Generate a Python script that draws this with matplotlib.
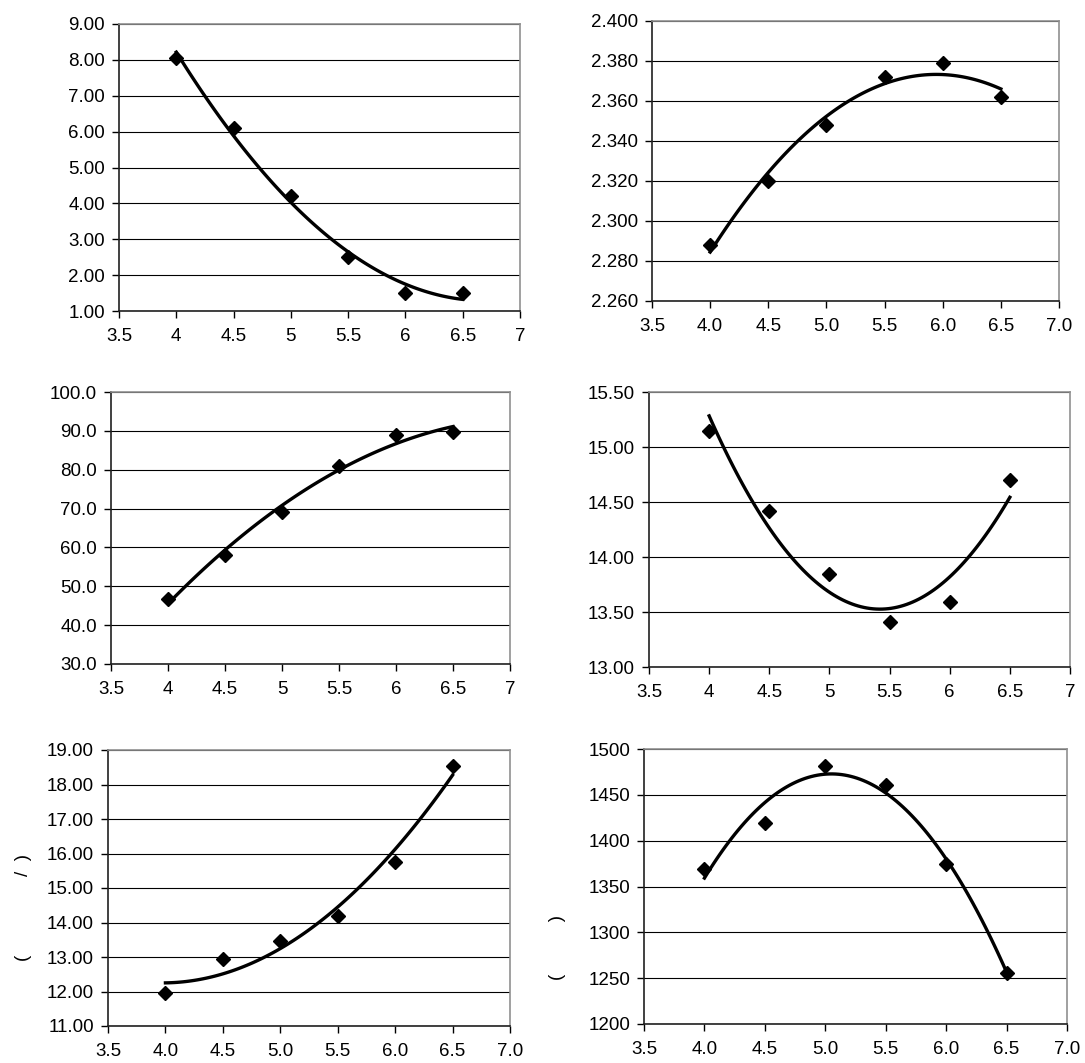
import numpy as np
import matplotlib.pyplot as plt
from matplotlib.ticker import FormatStrFormatter, FuncFormatter

plt.rcParams['font.family'] = ['Liberation Sans', 'DejaVu Sans']

x = [4.0, 4.5, 5.0, 5.5, 6.0, 6.5]

y1 = [8.05, 6.10, 4.20, 2.50, 1.50, 1.50]
y2 = [2.288, 2.320, 2.348, 2.372, 2.379, 2.362]
y3 = [46.7, 58.0, 69.2, 80.9, 89.0, 89.6]
y4 = [15.15, 14.42, 13.85, 13.41, 13.59, 14.70]
y5 = [11.95, 12.95, 13.45, 14.20, 15.75, 18.55]
y6 = [1369, 1419, 1482, 1461, 1375, 1256]

ylims = [(1, 9, 1), (2.26, 2.40, 0.02), (30, 100, 10),
         (13, 15.5, 0.5), (11, 19, 1), (1200, 1500, 50)]
yfmts = ['%.2f', '%.3f', '%.1f', '%.2f', '%.2f', '%d']
xfmts = ['g', '%.1f', 'g', 'g', '%.1f', '%.1f']
ylabels = ['', '', '', '', '(               /  )', '(          )']

# axes boxes in pixels: left, right, top, bottom
boxes = [(119, 520, 24, 311), (652, 1059, 21, 301),
         (111, 510, 392, 664), (649, 1070, 392, 667),
         (108, 510, 750, 1026), (644, 1067, 749, 1024)]

W, H = 1085, 1063
fig = plt.figure(figsize=(W / 100, H / 100), dpi=100)

ys = [y1, y2, y3, y4, y5, y6]
for i in range(6):
    L, R, T, B = boxes[i]
    ax = fig.add_axes([L / W, 1 - B / H, (R - L) / W, (B - T) / H])
    lo, hi, st = ylims[i]
    ax.set_ylim(lo, hi)
    ax.set_yticks(np.arange(lo, hi + st / 2, st))
    ax.set_xlim(3.5, 7)
    ax.set_xticks(np.arange(3.5, 7.01, 0.5))
    ax.yaxis.set_major_formatter(FormatStrFormatter(yfmts[i]))
    if xfmts[i] == 'g':
        ax.xaxis.set_major_formatter(FuncFormatter(lambda v, p: '%g' % v))
    else:
        ax.xaxis.set_major_formatter(FormatStrFormatter(xfmts[i]))
    ax.grid(axis='y', color='black', lw=0.8)
    ax.set_axisbelow(True)
    for s in ['top', 'right']:
        ax.spines[s].set_color('#909090')
        ax.spines[s].set_linewidth(1.2)
    for s in ['left', 'bottom']:
        ax.spines[s].set_color('#202020')
        ax.spines[s].set_linewidth(1.2)
    ax.tick_params(axis='y', length=5, width=1, pad=5, labelsize=13.5)
    ax.tick_params(axis='x', length=5, width=1, pad=7, labelsize=13.5)

    # quadratic trend line like the spreadsheet one
    c = np.polyfit(x, ys[i], 2)
    xx = np.linspace(4, 6.5, 100)
    ax.plot(xx, np.polyval(c, xx), color='black', lw=2.4, zorder=3)
    ax.plot(x, ys[i], 'D', color='black', ms=7, zorder=4)

    if ylabels[i]:
        ax.set_ylabel(ylabels[i], fontsize=13.5)

fig.axes[4].yaxis.set_label_coords(-0.19, 0.43)
fig.axes[5].yaxis.set_label_coords(-0.185, 0.28)

fig.savefig('out.png', dpi=100)
